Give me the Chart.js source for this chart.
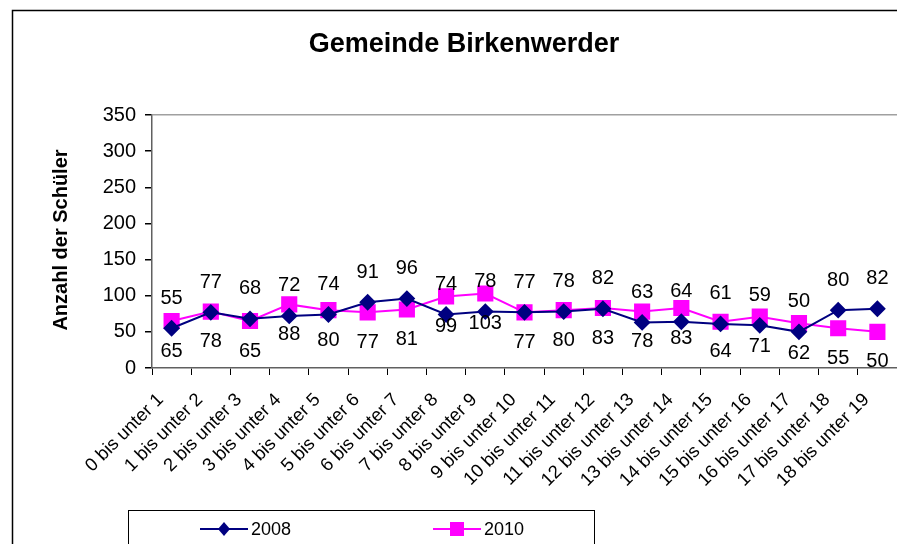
<!DOCTYPE html>
<html>
<head>
<meta charset="utf-8">
<title>Gemeinde Birkenwerder</title>
<script src="https://cdn.jsdelivr.net/npm/chart.js@4"></script>
<style>
  html, body { margin: 0; padding: 0; background: #fff; }
  canvas { display: block; }
</style>
</head>
<body>
<canvas id="chart" width="897" height="544"></canvas>
<script>
// Altersgruppen (Kategorien)
const categories = [
    '0 bis unter 1', '1 bis unter 2', '2 bis unter 3', '3 bis unter 4', '4 bis unter 5',
    '5 bis unter 6', '6 bis unter 7', '7 bis unter 8', '8 bis unter 9', '9 bis unter 10',
    '10 bis unter 11', '11 bis unter 12', '12 bis unter 13', '13 bis unter 14', '14 bis unter 15',
    '15 bis unter 16', '16 bis unter 17', '17 bis unter 18', '18 bis unter 19'
];

const values2008 = [55, 77, 68, 72, 74, 91, 96, 74, 78, 77, 78, 82, 63, 64, 61, 59, 50, 80, 82];
const values2010 = [65, 78, 65, 88, 80, 77, 81, 99, 103, 77, 80, 83, 78, 83, 64, 71, 62, 55, 50];

const yTicks = [0, 50, 100, 150, 200, 250, 300, 350];

const FONT = "'Liberation Sans', Arial, sans-serif";
const NAVY = '#000080';
const MAGENTA = '#ff00ff';

const frame = {
    id: 'frame',
    beforeDraw: function (chart) {
        const ctx = chart.ctx;
        ctx.save();
        ctx.fillStyle = '#fff';
        ctx.fillRect(0, 0, chart.width, chart.height);
        ctx.strokeStyle = '#000';
        ctx.lineWidth = 1.5;
        ctx.strokeRect(12.5, 10.5, 1000, 1000);
        ctx.restore();
    },
    afterDraw: function (chart) {
        const ctx = chart.ctx;
        ctx.save();
        ctx.fillStyle = '#000';

        // Titel
        ctx.font = 'bold 27px ' + FONT;
        ctx.textAlign = 'center';
        ctx.textBaseline = 'middle';
        ctx.fillText('Gemeinde Birkenwerder', 464, 45);

        // Achsentitel
        ctx.save();
        ctx.translate(61, 240);
        ctx.rotate(-Math.PI / 2);
        ctx.font = 'bold 20px ' + FONT;
        ctx.fillText('Anzahl der Schüler', 0, 0);
        ctx.restore();

        // Legende
        ctx.strokeStyle = '#000';
        ctx.lineWidth = 1;
        ctx.strokeRect(128.5, 510.5, 466, 100);

        const items = [
            { text: '2008', color: NAVY, x: 200, marker: 'diamond' },
            { text: '2010', color: MAGENTA, x: 433, marker: 'square' }
        ];
        const ly = 529;
        items.forEach(function (it) {
            ctx.strokeStyle = it.color;
            ctx.fillStyle = it.color;
            ctx.lineWidth = 2;
            ctx.beginPath();
            ctx.moveTo(it.x, ly);
            ctx.lineTo(it.x + 48, ly);
            ctx.stroke();
            const cx = it.x + 24;
            ctx.beginPath();
            if (it.marker === 'diamond') {
                ctx.moveTo(cx, ly - 7);
                ctx.lineTo(cx + 6, ly);
                ctx.lineTo(cx, ly + 7);
                ctx.lineTo(cx - 6, ly);
                ctx.closePath();
            } else {
                ctx.rect(cx - 7, ly - 7, 14, 14);
            }
            ctx.fill();
            ctx.fillStyle = '#000';
            ctx.font = '18px ' + FONT;
            ctx.textAlign = 'left';
            ctx.textBaseline = 'middle';
            ctx.fillText(it.text, it.x + 51, ly + 1);
        });
        ctx.restore();
    }
};

const pointLabels = {
    id: 'pointLabels',
    afterDatasetsDraw: function (chart) {
        const ctx = chart.ctx;
        ctx.save();
        ctx.fillStyle = '#000';
        ctx.font = '20px ' + FONT;
        ctx.textAlign = 'center';
        ctx.textBaseline = 'middle';
        chart.data.datasets.forEach(function (ds, i) {
            const meta = chart.getDatasetMeta(i);
            const offset = i === 0 ? -30 : 30;
            meta.data.forEach(function (pt, j) {
                ctx.fillText(String(ds.data[j]), pt.x, pt.y + offset);
            });
        });
        ctx.restore();
    }
};

new Chart(document.getElementById('chart'), {
    type: 'line',
    data: {
        labels: categories,
        datasets: [{
            label: '2008',
            data: values2008,
            borderColor: NAVY,
            backgroundColor: NAVY,
            borderWidth: 2,
            pointStyle: 'rectRot',
            pointRadius: 7,
            pointHoverRadius: 7,
            tension: 0,
            fill: false
        }, {
            label: '2010',
            data: values2010,
            borderColor: MAGENTA,
            backgroundColor: MAGENTA,
            borderWidth: 2,
            pointStyle: 'rect',
            pointRadius: 10,
            pointHoverRadius: 10,
            tension: 0,
            fill: false
        }]
    },
    options: {
        responsive: false,
        animation: false,
        events: [],
        layout: {
            autoPadding: false,
            padding: { top: 115, left: 0, right: 0, bottom: 0 }
        },
        plugins: {
            legend: { display: false },
            title: { display: false },
            tooltip: { enabled: false }
        },
        scales: {
            x: {
                offset: true,
                afterFit: function (scale) {
                    scale.height = 176;
                    scale.paddingLeft = 0;
                    scale.paddingRight = 0;
                },
                grid: {
                    offset: true,
                    drawOnChartArea: false,
                    tickLength: 7,
                    tickColor: '#000'
                },
                border: { color: '#606060', width: 1.5 },
                ticks: {
                    color: '#000',
                    font: { family: FONT, size: 18.5 },
                    minRotation: 45,
                    maxRotation: 45,
                    autoSkip: false,
                    padding: 14,
                    labelOffset: -11
                }
            },
            y: {
                min: yTicks[0],
                max: yTicks[yTicks.length - 1],
                afterFit: function (scale) {
                    scale.width = 152;
                    scale.paddingTop = 0;
                    scale.paddingBottom = 0;
                },
                afterBuildTicks: function (scale) {
                    scale.ticks = yTicks.map(function (v) { return { value: v }; });
                },
                grid: {
                    color: function (c) { return c.tick && c.tick.value === 350 ? '#a0a0a0' : 'rgba(0,0,0,0)'; },
                    lineWidth: 1.5,
                    tickLength: 7,
                    tickColor: '#000'
                },
                border: { color: '#606060', width: 1.5 },
                ticks: {
                    color: '#000',
                    font: { family: FONT, size: 20 },
                    padding: 9
                }
            }
        }
    },
    plugins: [frame, pointLabels]
});
</script>
</body>
</html>
